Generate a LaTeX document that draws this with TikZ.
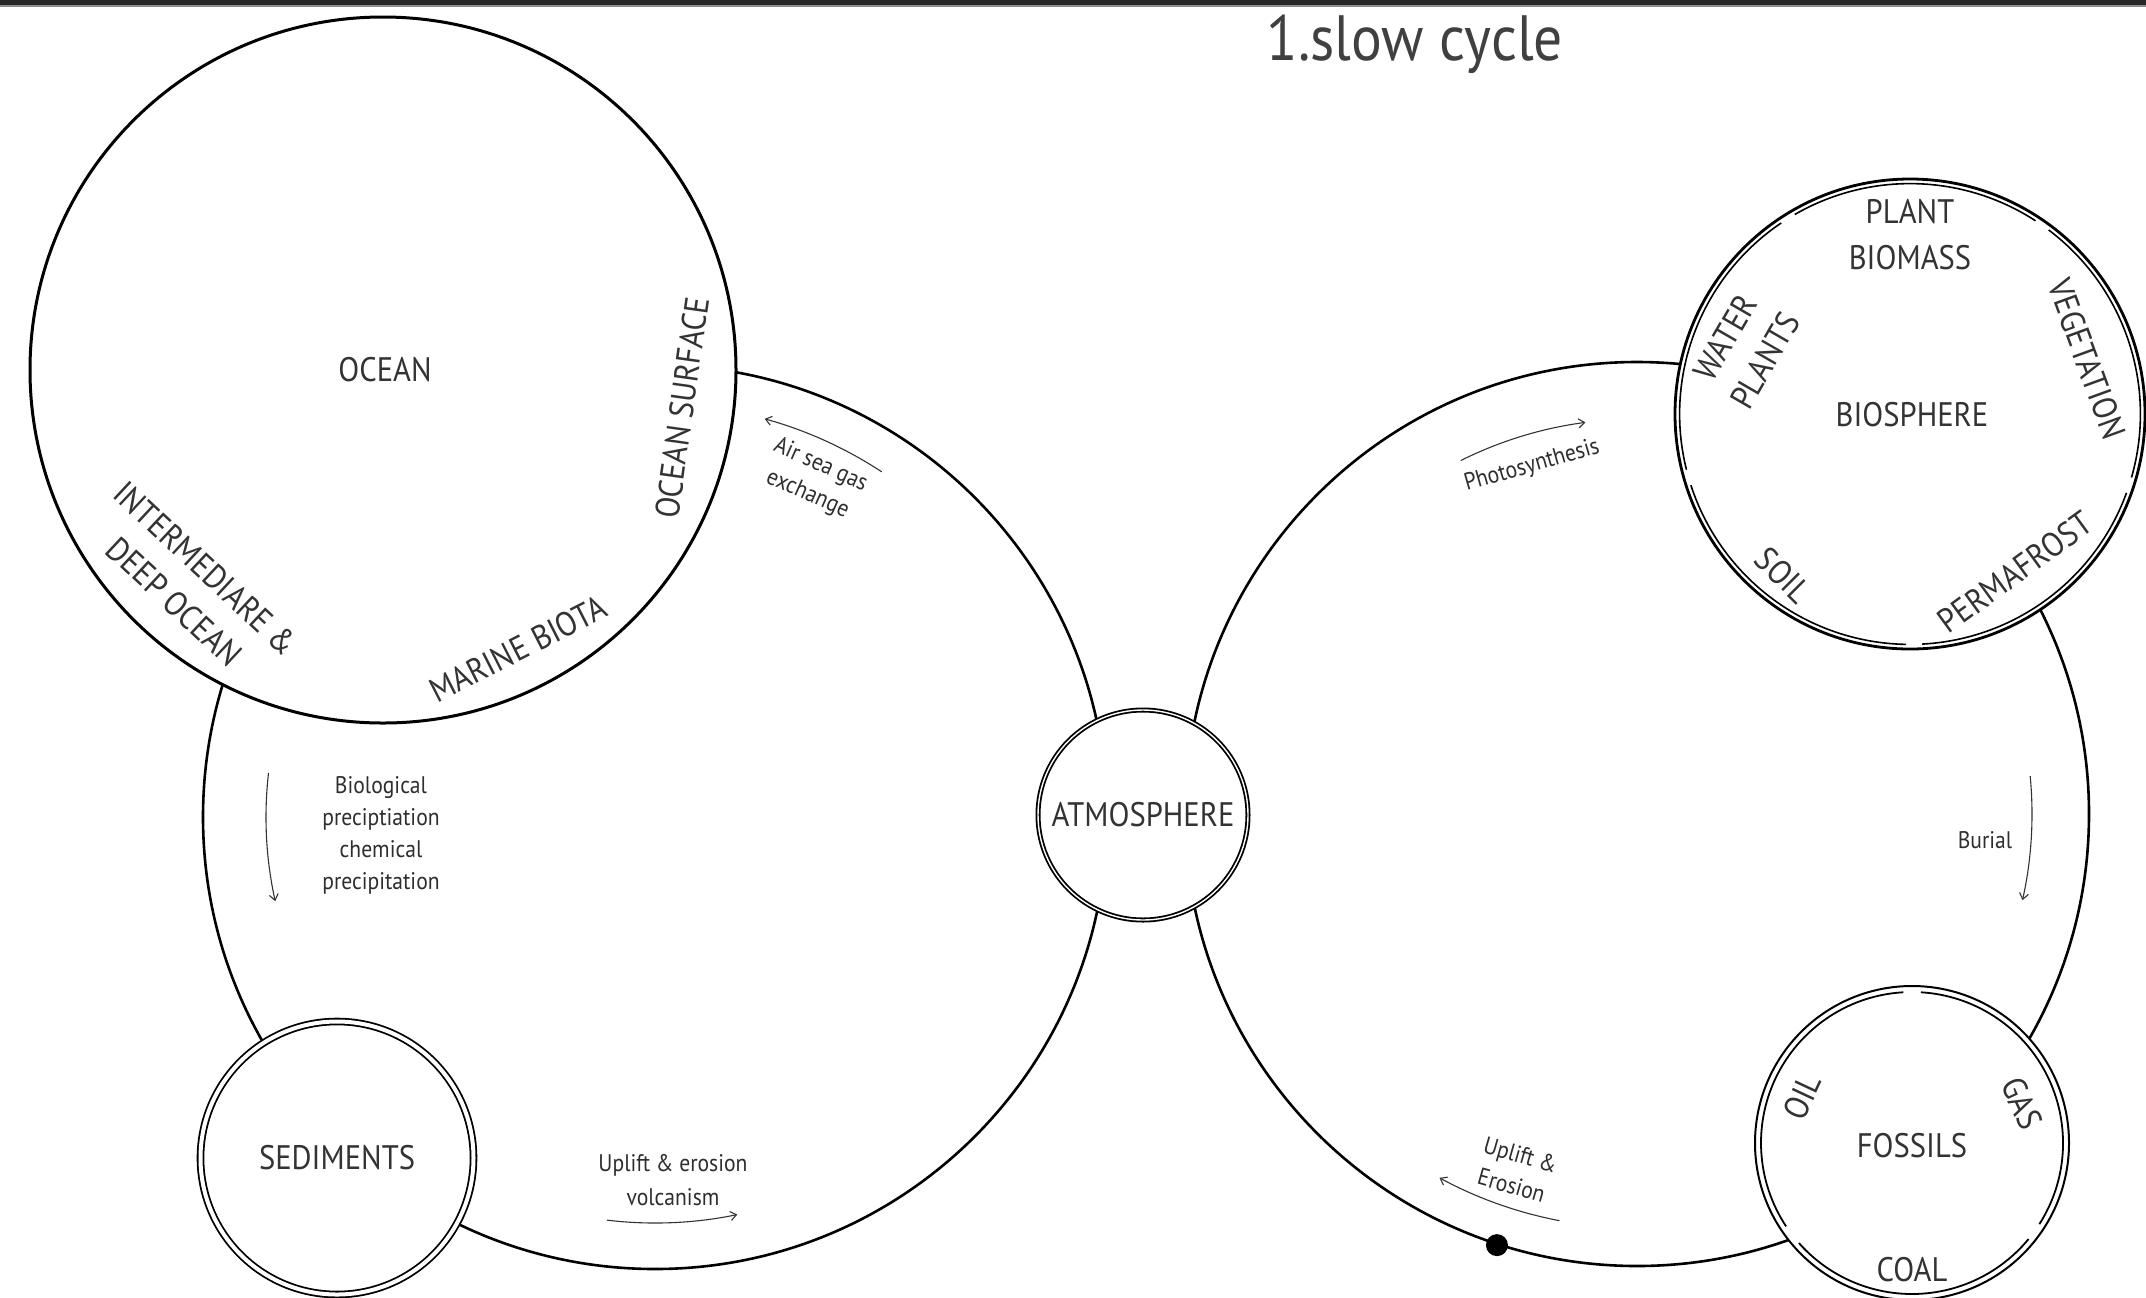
\documentclass[tikz,border=0pt]{standalone}
\usepackage{fontspec}
\setmainfont{PT Sans}[FakeStretch=0.9]
\usetikzlibrary{arrows.meta}
\definecolor{ink}{HTML}{333333}
\begin{document}
\begin{tikzpicture}[x=0.5pt,y=-0.5pt,
  cyclering/.style={circle, draw, line width=1.3pt, inner sep=0pt},
  reservoir/.style={circle, draw, fill=white, inner sep=0pt},
  lab/.style={font=\fontsize{17}{23}\selectfont, text=ink, align=center, inner sep=0pt},
  sublab/.style={font=\fontsize{12}{16}\selectfont, text=black!82, align=center, inner sep=0pt},
  flow/.style={line width=0.55pt, black!80, -{Straight Barb[length=3pt,width=4.5pt]}},
  segarc/.style={line width=0.8pt}
]
\useasboundingbox (0,0) rectangle (2146,1297);
\fill[white] (0,0) rectangle (2146,1297);
\fill[black!85] (0,0) rectangle (2146,5);
\fill[black!45] (0,5) rectangle (2146,7);

% title
\node[font=\fontsize{32}{36}\selectfont, text=black!75, inner sep=0pt] (title) at (1415,44) {1.slow cycle};

% the two big cycles
\node[cyclering, minimum size=452pt] (cycL) at (655,817) {};
\node[cyclering, minimum size=452pt] (cycR) at (1637,814) {};

% ocean
\node[reservoir, line width=1.5pt, minimum size=353pt] (ocean) at (383,370) {};
\node[lab] (oceanlab) at (385,370) {OCEAN};
\node[lab, rotate=82] (surf) at (682,408) {OCEAN SURFACE};
\node[lab, rotate=27] (biota) at (518,649) {MARINE BIOTA};
\node[lab, rotate=-43] (deep) at (190,585) {INTERMEDIARE \&\\DEEP OCEAN};

% sediments
\node[reservoir, line width=0.9pt, double, double distance=2pt, minimum size=136.5pt, lab] (sed) at (337,1158) {SEDIMENTS};

% atmosphere
\node[reservoir, line width=0.9pt, double, double distance=0.7pt, minimum size=105pt, lab] (atm) at (1143,815) {ATMOSPHERE};

% biosphere
\node[reservoir, line width=1.4pt, minimum size=235pt] (bio) at (1910,414) {};
\foreach \a/\b in {57/120, 124/194, 198/269, 273/340, 344/413}
  \draw[segarc] ([shift={(\a:115.2pt)}]bio.center) arc[start angle=\a, end angle=\b, radius=115.2pt];
\node[lab] (biolab) at (1912,415) {BIOSPHERE};
\node[lab] (plant) at (1910,235) {PLANT\\BIOMASS};
\node[lab, rotate=60] (water) at (1745,349) {WATER\\PLANTS};
\node[lab, rotate=-70] (veg) at (2087,359) {VEGETATION};
\node[lab, rotate=-45] (soil) at (1783,575) {SOIL};
\node[lab, rotate=36] (perma) at (2015,572) {PERMAFROST};

% fossils
\node[reservoir, line width=1pt, minimum size=157pt] (fos) at (1912,1143) {};
\foreach \a/\b in {93.3/213.5, 221.5/320.5, 327.5/446.6}
  \draw[segarc, line width=0.9pt] ([shift={(\a:75.5pt)}]fos.center) arc[start angle=\a, end angle=\b, radius=75.5pt];
\node[lab] (foslab) at (1912,1146) {FOSSILS};
\node[lab, rotate=65] (oil) at (1802,1097) {OIL};
\node[lab, rotate=-65] (gas) at (2022,1103) {GAS};
\node[lab] (coal) at (1912,1270) {COAL};

% dot on the right cycle
\node[circle, fill=black, minimum size=11pt, inner sep=0pt] (dot) at (cycR.-108) {};

% process arrows
\coordinate (airS) at ([shift={(56.7:206.5pt)}]cycL.center);
\draw[flow] (airS) arc[start angle=56.7, end angle=74.6, radius=206.5pt];
\node[sublab, rotate=-24] (airlab) at (814,480) {Air sea gas\\exchange};

\coordinate (bioS) at ([shift={(173.5:194.5pt)}]cycL.center);
\draw[flow] (bioS) arc[start angle=173.5, end angle=192.5, radius=194.5pt];
\node[sublab] (biolog) at (381,835) {Biological\\preciptiation\\chemical\\precipitation};

\coordinate (upS) at ([shift={(-96.8:203pt)}]cycL.center);
\draw[flow] (upS) arc[start angle=-96.8, end angle=-78.3, radius=203pt];
\node[sublab, font=\fontsize{12}{17}\selectfont] (uplab) at (673,1180) {Uplift \& erosion\\volcanism};

\coordinate (phS) at ([shift={(116.5:197.5pt)}]cycR.center);
\draw[flow] (phS) arc[start angle=116.5, end angle=97.5, radius=197.5pt];
\node[sublab, rotate=16] (phlab) at (1532,466) {Photosynthesis};

\coordinate (buS) at ([shift={(5.5:197.5pt)}]cycR.center);
\draw[flow] (buS) arc[start angle=5.5, end angle=-12.6, radius=197.5pt];
\node[sublab] (bulab) at (1985,840) {Burial};

\coordinate (erS) at ([shift={(-100.8:207pt)}]cycR.center);
\draw[flow] (erS) arc[start angle=-100.8, end angle=-118.5, radius=207pt];
\node[sublab, rotate=-16] (erlab) at (1516,1170) {Uplift \&\\Erosion};
\end{tikzpicture}
\end{document}
